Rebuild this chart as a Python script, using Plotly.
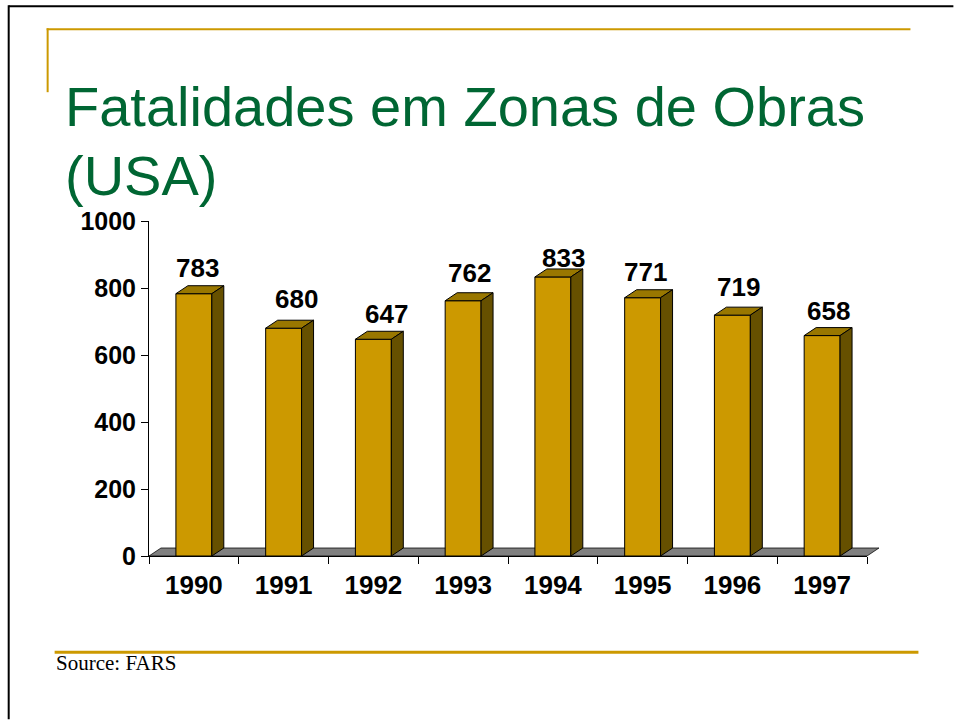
import plotly.graph_objects as go

years = [1990, 1991, 1992, 1993, 1994, 1995, 1996, 1997]
fatalities = [783, 680, 647, 762, 833, 771, 719, 658]
y_ticks = [0, 200, 400, 600, 800, 1000]
label_dx_px = [3.5, 13, 13, 6, 11, 3, 6, 6]
label_dy_px = [26, 29, 25, 28, 19, 26, 28, 25]
title_lines = ["Fatalidades em Zonas de Obras", "(USA)"]
source_text = "Source: FARS"

W, H = 954, 720
L, R, T, B = 148.5, 867.5, 221, 556.5
FRONT, TOP, SIDE, FLOOR = "#CC9900", "#997700", "#665000", "#808080"
GOLD, GREEN = "#CC9900", "#006633"
BAR_W = 0.4
DX = 12 * 8 / (R - L)       # oblique depth in axis units
DY = 8 * 1000 / (B - T)

def px(x): return (x - L) / (R - L)
def py(y): return (B - y) / (B - T)

fig = go.Figure()
def poly(xs, ys, color, lw=1):
    fig.add_trace(go.Scatter(x=xs, y=ys, mode="lines", fill="toself", fillcolor=color,
                             line=dict(color="#000000", width=lw),
                             hoverinfo="skip", showlegend=False))

x0, x1 = years[0] - 0.5, years[-1] + 0.5

fig.add_trace(go.Bar(x=years, y=fatalities, width=BAR_W,
                     marker=dict(color=FRONT, line=dict(color="#000000", width=1)),
                     showlegend=False, hoverinfo="x+y"))
for yr, v in zip(years, fatalities):
    l, r = yr - BAR_W / 2, yr + BAR_W / 2
    poly([l, l + DX, r + DX, r, l], [v, v + DY, v + DY, v, v], TOP)
    poly([r, r + DX, r + DX, r, r], [0, DY, v + DY, v, 0], SIDE)

label_font = dict(family="Liberation Sans, Arial, sans-serif", size=26, color="#000000")
ytick_font = dict(family="Liberation Sans, Arial, sans-serif", size=25, color="#000000")
annotations = [
    dict(x=yr, y=v, xref="x", yref="y", text=f"<b>{v}</b>", showarrow=False,
         xanchor="center", yanchor="middle", xshift=dx, yshift=dy, font=label_font)
    for yr, v, dx, dy in zip(years, fatalities, label_dx_px, label_dy_px)
]
for text, yc in zip(title_lines, [106, 175]):
    annotations.append(dict(x=px(62), y=py(yc), xref="paper", yref="paper", text=text,
                            showarrow=False, xanchor="left", yanchor="middle", align="left",
                            font=dict(family="Liberation Sans, Arial, sans-serif", size=56, color=GREEN)))
annotations.append(dict(x=px(53.5), y=py(664), xref="paper", yref="paper", text=source_text,
                        showarrow=False, xanchor="left", yanchor="middle",
                        font=dict(family="Liberation Serif, Times New Roman, serif", size=21, color="#000000")))

def line(a, b, c, d, color, width):
    return dict(type="line", xref="paper", yref="paper", x0=px(a), y0=py(b), x1=px(c), y1=py(d),
                line=dict(color=color, width=width))
floor_path = "M {} {} L {} {} L {} {} L {} {} Z".format(
    px(L), py(B), px(L + 12), py(B - 8), px(R + 12), py(B - 8), px(R), py(B))
shapes = [
    dict(type="path", xref="paper", yref="paper", path=floor_path, layer="below",
         fillcolor=FLOOR, line=dict(color="#000000", width=0.75)),
    line(8, 6, 954, 6, "#000000", 2),
    line(8, 5, 8, 720, "#000000", 2),
    line(46, 29, 911, 29, GOLD, 2),
    line(47, 28, 47, 92, GOLD, 2),
    line(54, 653, 919, 653, GOLD, 3),
]

fig.update_layout(
    width=W, height=H, autosize=False, paper_bgcolor="#FFFFFF", plot_bgcolor="rgba(0,0,0,0)",
    margin=dict(l=L, r=W - R, t=T, b=H - B, pad=0),
    showlegend=False, annotations=annotations, shapes=shapes,
    xaxis=dict(range=[x0, x1], tickmode="array", tickvals=years, ticktext=[f"<b>{y}</b>" for y in years],
               ticks="", tickfont=label_font, showgrid=False, zeroline=False, showline=True,
               linecolor="#000000", linewidth=1, ticklabelstandoff=6,
               minor=dict(ticks="outside", ticklen=7, tickcolor="#000000", tickwidth=1,
                          tick0=x0, dtick=1, showgrid=False)),
    yaxis=dict(range=[0, 1000], tickmode="array", tickvals=y_ticks, ticktext=[f"<b>{t}</b>" for t in y_ticks],
               ticks="outside", ticklen=7, tickcolor="#000000", tickfont=ytick_font, showgrid=False,
               zeroline=False, showline=True, linecolor="#000000", linewidth=1),
)

fig.write_html("out.html", config=dict(displayModeBar=False),
               post_script="document.body.style.margin='0';document.documentElement.style.overflow='hidden';")
